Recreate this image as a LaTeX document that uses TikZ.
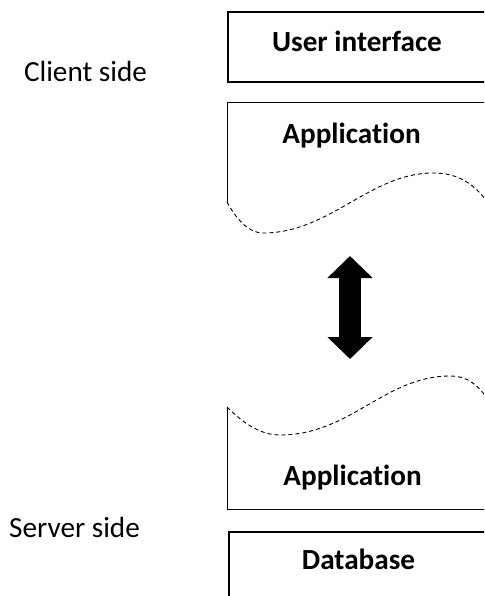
\documentclass[tikz,border=0pt]{standalone}
\usepackage{fontspec}
\setmainfont{Carlito}[Ligatures=NoCommon]
\usetikzlibrary{arrows.meta}

\begin{document}
\begin{tikzpicture}[
  x=1pt, y=-1pt,
  every node/.style={font=\fontsize{29.2}{35}\selectfont, anchor=base, inner sep=0pt},
  title/.style={font=\fontsize{29.2}{35}\selectfont\bfseries},
  frame/.style={draw=black, line width=2pt},
  part/.style={draw=black, line width=0.9pt},
  cut/.style={draw=black, line width=0.9pt, dash pattern=on 4pt off 3pt},
  link/.style={line width=22pt, {Triangle[length=22pt,width=44pt]}-{Triangle[length=22pt,width=44pt]}}
]
\clip (0,0) rectangle (484,596);

% side labels
\node (client) at (85.5,82) {Client side};
\node (server) at (74.5,537) {Server side};

% client tiers
\draw[frame] (228,12) rectangle (500,82);
\node[title] (ui) at (357,52) {User interface};
\draw[part] (500,102) -- (227,102) -- (227,202);
\draw[cut] (227,202) .. controls (238,222) and (250,233) .. (263,233)
  .. controls (330,233) and (370,173) .. (433,173)
  .. controls (460,173) and (475,185) .. (490,205);
\node[title] (appC) at (351.5,143) {Application};

% server tiers
\draw[cut] (227,407) .. controls (245,425) and (262,435) .. (280,435)
  .. controls (350,435) and (385,376) .. (450,376)
  .. controls (468,376) and (478,385) .. (490,402);
\draw[part] (227,407) -- (227,509) -- (500,509);
\node[title] (appS) at (352.5,485) {Application};
\draw[frame] (229,532) rectangle (500,610);
\node[title] (db) at (358.5,569) {Database};

% communication
\coordinate (top) at (350,256);
\coordinate (bottom) at (350,359);
\draw[link] (top) -- (bottom);
\end{tikzpicture}
\end{document}
